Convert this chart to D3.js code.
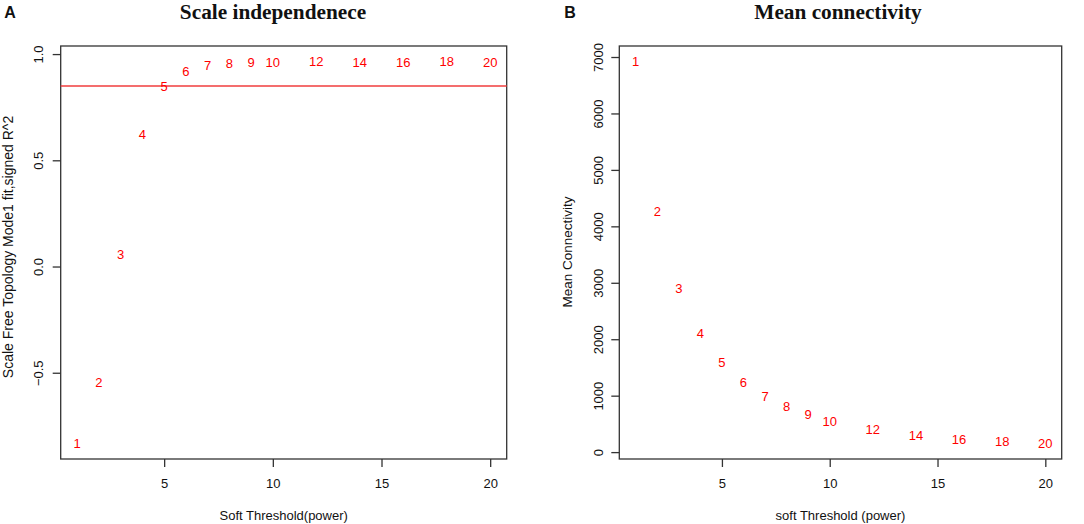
<!DOCTYPE html>
<html>
<head>
<meta charset="utf-8">
<script src="https://cdn.jsdelivr.net/npm/d3@7"></script>
<style>
  html, body { margin: 0; padding: 0; background: #fff; }
  svg { display: block; }
</style>
</head>
<body>
<svg id="chart" width="1084" height="524"></svg>
<script>
// ---- data ----
const powers = [1, 2, 3, 4, 5, 6, 7, 8, 9, 10, 12, 14, 16, 18, 20];
const scaleFreeFit = [-0.834, -0.544, 0.056, 0.622, 0.846, 0.920, 0.945, 0.956, 0.962, 0.962, 0.966, 0.962, 0.962, 0.966, 0.961];
const meanConnectivity = [6924, 4255, 2906, 2106, 1596, 1241, 993, 810, 663, 550, 397, 301, 230, 184, 149];
const cutoffR2 = 0.85;
const xTicks = [5, 10, 15, 20];
const yTicksA = [-0.5, 0.0, 0.5, 1.0];
const yTicksB = [0, 1000, 2000, 3000, 4000, 5000, 6000, 7000];

const svg = d3.select("#chart");
const axisColor = "#333";
const sans = "'Liberation Sans', Arial, Helvetica, sans-serif";
const serif = "'Liberation Serif', 'Times New Roman', serif";

function padded(ext) {
  const d = ext[1] - ext[0];
  return [ext[0] - 0.04 * d, ext[1] + 0.04 * d];
}

function panel(opts) {
  const { box, yVals, yTicks, yFmt, title, titleX, letter, letterX, xLabel, yLabel, yLabelX, yLabelY, yLabelSize, yTickX, hline } = opts;
  const x = d3.scaleLinear().domain(padded(d3.extent(powers))).range([box.l, box.r]);
  const y = d3.scaleLinear().domain(padded(d3.extent(yVals))).range([box.b, box.t]);
  const g = svg.append("g");

  // box
  g.append("rect")
    .attr("x", box.l).attr("y", box.t)
    .attr("width", box.r - box.l).attr("height", box.b - box.t)
    .attr("fill", "none").attr("stroke", axisColor).attr("stroke-width", 1.3);

  // x axis
  const xAxis = d3.axisBottom(x).tickValues(xTicks).tickSize(8).tickPadding(0).tickFormat(d3.format("d"));
  const gx = g.append("g").attr("transform", `translate(0,${box.b})`).call(xAxis);
  gx.select(".domain").remove();
  gx.selectAll(".tick line").attr("stroke", axisColor).attr("stroke-width", 1.3);
  gx.selectAll(".tick text")
    .attr("y", 24).attr("dy", "0.35em")
    .attr("fill", "#111").style("font-family", sans).style("font-size", "13px");

  // y axis
  const yAxis = d3.axisLeft(y).tickValues(yTicks).tickSize(8).tickPadding(0).tickFormat(yFmt);
  const gy = g.append("g").attr("transform", `translate(${box.l},0)`).call(yAxis);
  gy.select(".domain").remove();
  gy.selectAll(".tick line").attr("stroke", axisColor).attr("stroke-width", 1.3);
  gy.selectAll(".tick text")
    .attr("x", null).attr("dy", null)
    .attr("transform", `translate(${yTickX - box.l},0) rotate(-90)`)
    .attr("text-anchor", "middle")
    .attr("dy", "0.35em")
    .attr("fill", "#111").style("font-family", sans).style("font-size", "13px");

  // reference line
  if (hline !== undefined) {
    g.append("line")
      .attr("x1", box.l).attr("x2", box.r)
      .attr("y1", y(hline)).attr("y2", y(hline))
      .attr("stroke", "#f03c3c").attr("stroke-width", 1.4);
  }

  // point labels
  g.selectAll("text.pt").data(powers.map((p, i) => ({ p, v: yVals[i] })))
    .join("text")
    .attr("class", "pt")
    .attr("x", d => x(d.p)).attr("y", d => y(d.v))
    .attr("dy", "0.35em").attr("text-anchor", "middle")
    .attr("fill", "#ff0000").style("font-family", sans).style("font-size", "13px")
    .text(d => d.p);

  // titles and labels
  g.append("text").attr("x", titleX).attr("y", 19)
    .attr("text-anchor", "middle").attr("fill", "#111")
    .style("font-family", serif).style("font-weight", "bold").style("font-size", "21.3px")
    .text(title);
  g.append("text").attr("x", letterX).attr("y", 18)
    .attr("text-anchor", "middle").attr("fill", "#111")
    .style("font-family", sans).style("font-weight", "bold").style("font-size", "16px")
    .text(letter);
  g.append("text").attr("x", (box.l + box.r) / 2).attr("y", 515).attr("dy", "0.35em")
    .attr("text-anchor", "middle").attr("fill", "#111")
    .style("font-family", sans).style("font-size", "13px")
    .text(xLabel);
  g.append("text")
    .attr("transform", `translate(${yLabelX},${yLabelY}) rotate(-90)`)
    .attr("dy", "0.35em").attr("text-anchor", "middle").attr("fill", "#111")
    .style("font-family", sans).style("font-size", yLabelSize)
    .text(yLabel);
}

panel({
  box: { l: 60.7, r: 506.7, t: 46, b: 459 },
  yVals: scaleFreeFit, yTicks: yTicksA, yFmt: d3.format(".1f"),
  title: "Scale independenece", titleX: 273, letter: "A", letterX: 10,
  xLabel: "Soft Threshold(power)",
  yLabel: "Scale Free Topology Mode1 fit,signed R^2", yLabelX: 8.5, yLabelY: 247, yLabelSize: "14px", yTickX: 38,
  hline: cutoffR2
});

panel({
  box: { l: 619.3, r: 1061.7, t: 46, b: 459 },
  yVals: meanConnectivity, yTicks: yTicksB, yFmt: d3.format("d"),
  title: "Mean connectivity", titleX: 838, letter: "B", letterX: 570,
  xLabel: "soft Threshold (power)",
  yLabel: "Mean Connectivity", yLabelX: 567, yLabelY: 252, yLabelSize: "13.5px", yTickX: 598
});
</script>
</body>
</html>
